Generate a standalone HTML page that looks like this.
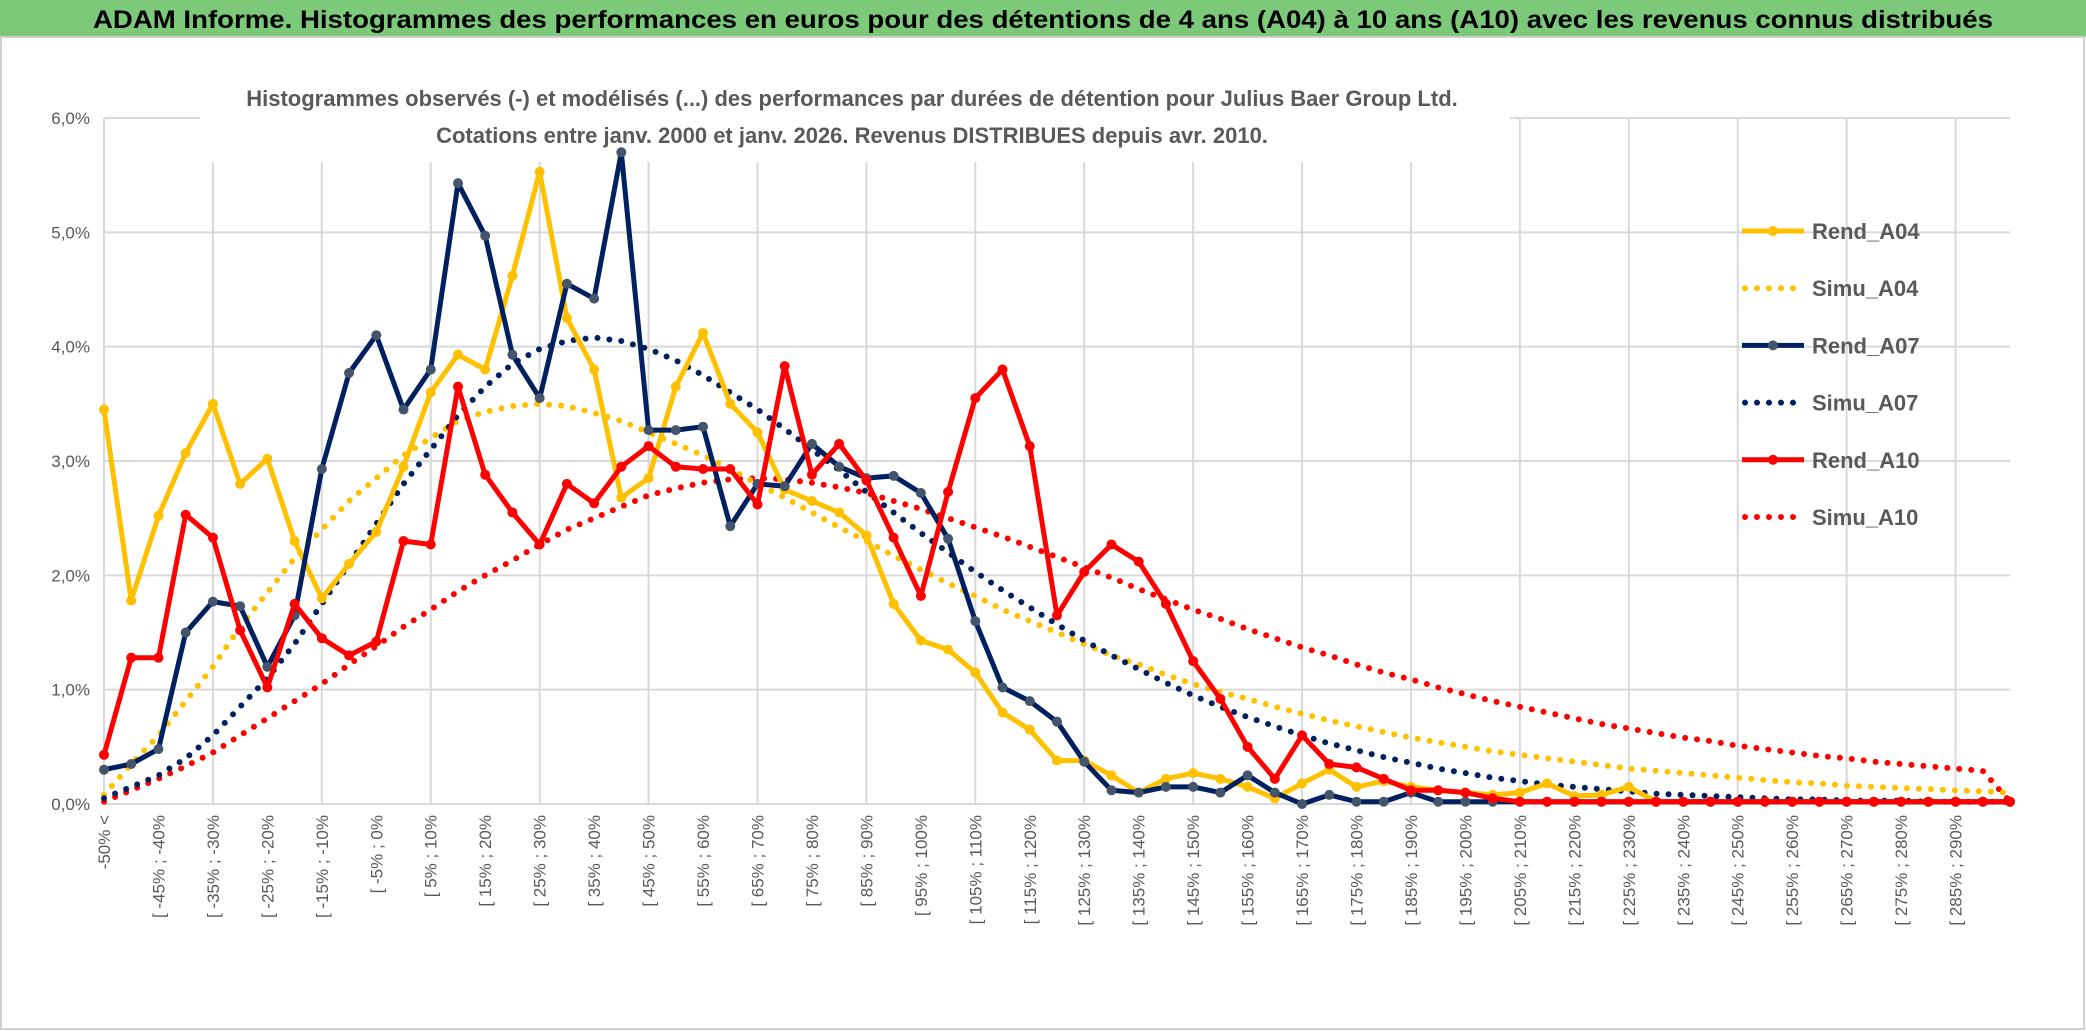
<!DOCTYPE html>
<html><head><meta charset="utf-8"><style>
html,body{margin:0;padding:0;background:#fff;}
svg{display:block;font-family:"Liberation Sans",sans-serif;}
</style></head><body>
<svg id="chart" width="2086" height="1031" viewBox="0 0 2086 1031">
<rect x="0" y="0" width="2086" height="1031" fill="#fff"/>
<rect x="0" y="0" width="2086" height="37" fill="#7cc97a"/>
<text x="1043" y="28" text-anchor="middle" font-size="25" font-weight="bold" fill="#000" textLength="1900" lengthAdjust="spacingAndGlyphs">ADAM Informe. Histogrammes des performances en euros pour des détentions de 4 ans (A04) à 10 ans (A10) avec les revenus connus distribués</text>
<rect x="1" y="37" width="2083" height="992" fill="none" stroke="#d0d0d0" stroke-width="2"/>
<g id="grid"></g>
<g id="yaxis"></g>
<g id="xaxis"></g>
<rect x="200" y="80" width="1310" height="82" fill="#fff"/>
<text x="852" y="106" text-anchor="middle" font-size="22" font-weight="bold" fill="#595959">Histogrammes observés (-) et modélisés (...) des performances par durées de détention pour Julius Baer Group Ltd.</text>
<text x="852" y="143" text-anchor="middle" font-size="22" font-weight="bold" fill="#595959">Cotations entre janv. 2000 et janv. 2026. Revenus DISTRIBUES depuis avr. 2010.</text>
<g id="series"></g>
<g id="legend"></g>
</svg>
<script>
const yTicks = [0,1,2,3,4,5,6];
const yTickLabels = ["0,0%","1,0%","2,0%","3,0%","4,0%","5,0%","6,0%"];
const seriesNames = ["Rend_A04","Simu_A04","Rend_A07","Simu_A07","Rend_A10","Simu_A10"];
const rendA04 = [3.45,1.78,2.52,3.07,3.5,2.8,3.02,2.3,1.8,2.1,2.38,2.95,3.6,3.93,3.8,4.62,5.53,4.25,3.8,2.68,2.85,3.65,4.12,3.5,3.25,2.75,2.65,2.55,2.35,1.75,1.43,1.35,1.15,0.8,0.65,0.38,0.38,0.25,0.1,0.22,0.27,0.22,0.15,0.05,0.18,0.3,0.15,0.2,0.15,0.12,0.1,0.08,0.1,0.18,0.07,0.08,0.15,0.02,0.02,0.02,0.02,0.02,0.02,0.02,0.02,0.02,0.02,0.02,0.02,0.02,0.02];
const simuA04 = [0.08,0.35,0.6,0.9,1.2,1.55,1.85,2.15,2.4,2.65,2.85,3.05,3.2,3.35,3.43,3.48,3.5,3.48,3.42,3.35,3.25,3.15,3.05,2.93,2.8,2.68,2.55,2.42,2.3,2.17,2.05,1.93,1.82,1.7,1.6,1.5,1.4,1.3,1.22,1.13,1.05,0.98,0.92,0.85,0.79,0.73,0.68,0.63,0.58,0.54,0.5,0.46,0.43,0.4,0.37,0.34,0.31,0.29,0.27,0.25,0.23,0.21,0.19,0.18,0.16,0.15,0.14,0.13,0.12,0.11,0.1];
const rendA07 = [0.3,0.35,0.48,1.5,1.77,1.73,1.2,1.65,2.93,3.77,4.1,3.45,3.8,5.43,4.97,3.93,3.55,4.55,4.42,5.7,3.27,3.27,3.3,2.43,2.8,2.78,3.15,2.95,2.85,2.87,2.72,2.32,1.6,1.02,0.9,0.72,0.37,0.12,0.1,0.15,0.15,0.1,0.25,0.1,0.0,0.08,0.02,0.02,0.1,0.02,0.02,0.02,0.02,0.02,0.02,0.02,0.02,0.02,0.02,0.02,0.02,0.02,0.02,0.02,0.02,0.02,0.02,0.02,0.02,0.02,0.02];
const simuA07 = [0.05,0.15,0.25,0.4,0.6,0.85,1.1,1.4,1.75,2.1,2.45,2.8,3.1,3.4,3.65,3.85,3.98,4.05,4.08,4.05,3.98,3.88,3.75,3.6,3.45,3.28,3.1,2.92,2.73,2.55,2.37,2.2,2.03,1.87,1.72,1.57,1.43,1.3,1.18,1.06,0.95,0.85,0.76,0.68,0.6,0.53,0.47,0.41,0.36,0.31,0.27,0.23,0.2,0.17,0.15,0.13,0.11,0.09,0.08,0.07,0.06,0.05,0.04,0.04,0.03,0.03,0.03,0.02,0.02,0.02,0.02];
const rendA10 = [0.43,1.28,1.28,2.53,2.33,1.52,1.02,1.75,1.45,1.3,1.42,2.3,2.27,3.65,2.88,2.55,2.27,2.8,2.63,2.95,3.13,2.95,2.93,2.93,2.62,3.83,2.88,3.15,2.83,2.33,1.82,2.73,3.55,3.8,3.13,1.65,2.03,2.27,2.12,1.75,1.25,0.92,0.5,0.22,0.6,0.35,0.32,0.22,0.12,0.12,0.1,0.05,0.02,0.02,0.02,0.02,0.02,0.02,0.02,0.02,0.02,0.02,0.02,0.02,0.02,0.02,0.02,0.02,0.02,0.02,0.02];
const simuA10 = [0.02,0.12,0.22,0.33,0.45,0.6,0.75,0.9,1.05,1.22,1.38,1.55,1.7,1.86,2.0,2.13,2.27,2.4,2.5,2.6,2.7,2.76,2.81,2.84,2.85,2.84,2.81,2.77,2.72,2.65,2.58,2.5,2.42,2.34,2.25,2.16,2.07,1.98,1.88,1.79,1.7,1.62,1.53,1.45,1.37,1.3,1.22,1.15,1.09,1.02,0.96,0.9,0.85,0.8,0.75,0.7,0.66,0.62,0.58,0.55,0.51,0.48,0.45,0.42,0.4,0.37,0.35,0.33,0.31,0.29,0.02];

const NS="http://www.w3.org/2000/svg";
const X0=104, X1=2010, Y0=804, Y1=118, YMAX=6;
const N=rendA04.length;
function xPos(i){return X0+(X1-X0)*i/(N-1);}
function yPos(v){return Y0-(Y0-Y1)*v/YMAX;}
function mk(tag,attrs,parent){const e=document.createElementNS(NS,tag);for(const k in attrs)e.setAttribute(k,attrs[k]);parent.appendChild(e);return e;}
function catLabel(i){if(i===0)return "-50% <";const lo=-50+5*(i-1);const hi=lo+5;const f=v=>(v<0?" -"+Math.abs(v):" "+v)+"%";return "["+f(lo)+" ;"+f(hi);}

const grid=document.getElementById('grid');
yTicks.forEach((t)=>{
  const l=mk('line',{x1:X0,x2:X1,y1:yPos(t),y2:yPos(t),stroke:'#d9d9d9','stroke-width':2},grid);
  
  
});
for(let i=0;i<N;i+=4){
  const l=mk('line',{x1:xPos(i),x2:xPos(i),y1:Y1,y2:Y0,stroke:'#d9d9d9','stroke-width':2},grid);
  
  
}
const ya=document.getElementById('yaxis');
yTicks.forEach((t,k)=>{
  const tx=mk('text',{x:X0-14,y:yPos(t)+6,'text-anchor':'end','font-size':17,fill:'#595959'},ya);
  tx.textContent=yTickLabels[k];
  
  
});
const xa=document.getElementById('xaxis');
for(let i=0;i<N-1;i+=2){
  const x=xPos(i)+6,y=815;
  const tx=mk('text',{x:x,y:y,'text-anchor':'end','font-size':17,fill:'#595959',transform:`rotate(-90 ${x} ${y})`},xa);
  tx.textContent=catLabel(i);
  
  
}
const sg=document.getElementById('series');
function drawSeries(vals,color,dotted,marker,name){
  const pts=vals.map((v,i)=>xPos(i).toFixed(1)+','+yPos(v).toFixed(1)).join(' ');
  const g=mk('g',{},sg);
  
  
  if(dotted){
    mk('polyline',{points:pts,fill:'none',stroke:color,'stroke-width':6,'stroke-linecap':'round','stroke-dasharray':'0 12'},g);
  }else{
    mk('polyline',{points:pts,fill:'none',stroke:color,'stroke-width':5,'stroke-linejoin':'round'},g);
    vals.forEach((v,i)=>{
      const c=mk('circle',{cx:xPos(i),cy:yPos(v),r:5,fill:marker},g);
      
      
    });
  }
}
drawSeries(simuA10,'#ff0000',true,null,'simu-a10-line');
drawSeries(simuA04,'#ffc000',true,null,'simu-a04-line');
drawSeries(simuA07,'#002060',true,null,'simu-a07-line');
drawSeries(rendA04,'#ffc000',false,'#ffc000','rend-a04-line');
drawSeries(rendA07,'#002060',false,'#44546a','rend-a07-line');
drawSeries(rendA10,'#ff0000',false,'#ff0000','rend-a10-line');

const lg=document.getElementById('legend');
const legColors=['#ffc000','#ffc000','#002060','#002060','#ff0000','#ff0000'];
const legMarkers=['#ffc000',null,'#44546a',null,'#ff0000',null];
seriesNames.forEach((n,k)=>{
  const y=231+k*57.2;
  const g=mk('g',{},lg);
  
  
  if(legMarkers[k]){
    mk('line',{x1:1742,x2:1804,y1:y,y2:y,stroke:legColors[k],'stroke-width':5},g);
    mk('circle',{cx:1773,cy:y,r:5,fill:legMarkers[k]},g);
  }else{
    mk('line',{x1:1745,x2:1802,y1:y,y2:y,stroke:legColors[k],'stroke-width':6,'stroke-linecap':'round','stroke-dasharray':'0 12'},g);
  }
  const t=mk('text',{x:1812,y:y+8,'font-size':22,'font-weight':'bold',fill:'#595959'},g);
  t.textContent=n;
});
</script>
</body></html>
